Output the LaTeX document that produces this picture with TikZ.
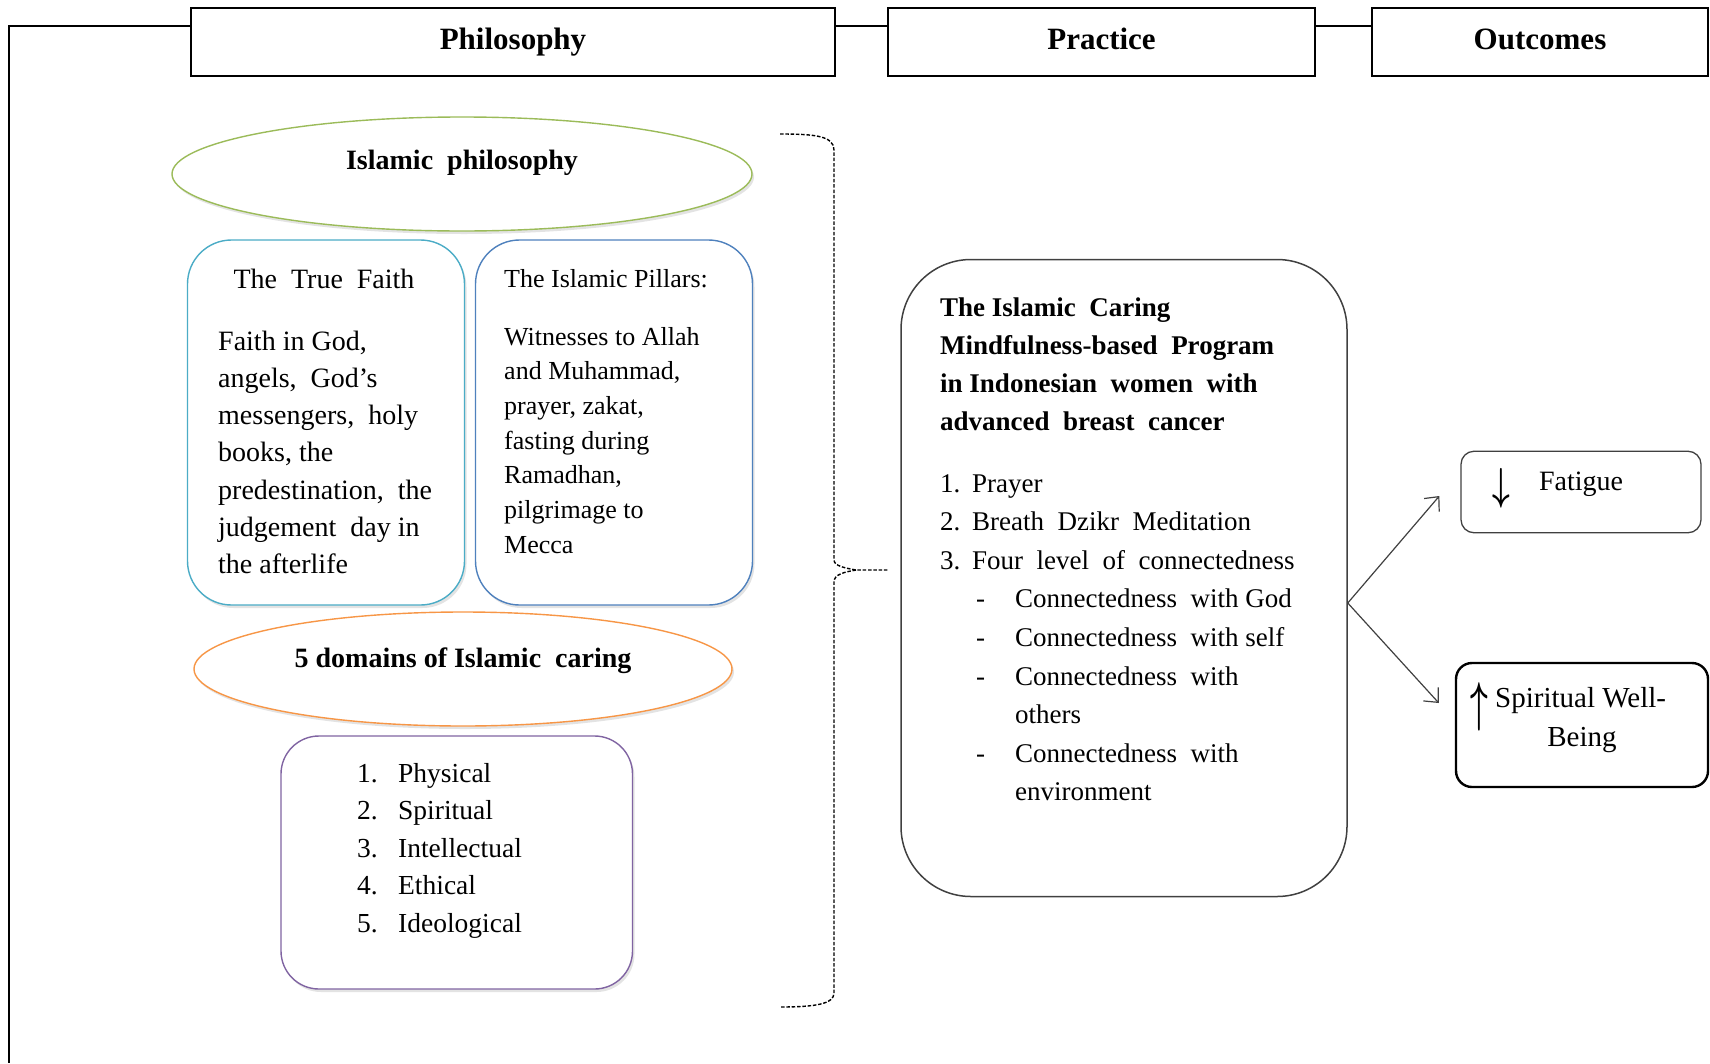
\documentclass[tikz,border=0pt]{standalone}
\usepackage{fix-cm}
\usepackage{graphicx}
\usepackage{fontspec}
\setmainfont{Liberation Serif}
\usetikzlibrary{calc,arrows.meta,shapes.geometric,shadows}
\definecolor{cgreen}{HTML}{9BBB59}
\definecolor{cteal}{HTML}{4BACC6}
\definecolor{cblue}{HTML}{4F81BD}
\definecolor{corange}{HTML}{F79646}
\definecolor{cpurple}{HTML}{8064A2}
\definecolor{cgrey}{HTML}{404040}
\newcommand{\myfs}[2]{\fontsize{#1}{#2}\selectfont}
\tikzset{
  hdr/.style={draw, line width=1.8pt, minimum height=68pt, inner sep=0pt, text height=22pt, text depth=7pt, font=\myfs{31}{36}\bfseries},
  frameline/.style={line width=1.8pt},
  softshadow/.style={drop shadow={shadow xshift=2pt, shadow yshift=-3pt, opacity=0.18, fill=black!60}},
  ovalbox/.style={ellipse, draw, line width=1.4pt, fill=white, softshadow, inner sep=0pt},
  roundbox/.style={rectangle, rounded corners=44pt, draw, line width=1.4pt, fill=white, softshadow, inner sep=0pt},
  txt/.style={inner sep=0pt, align=left},
  bracedash/.style={line width=1.4pt, dash pattern=on 3.5pt off 1.8pt},
  outarrow/.style={line width=1.2pt, cgrey, -{Straight Barb[length=11pt, width=20pt, line width=1.2pt]}},
}
\begin{document}
\begin{tikzpicture}[x=1pt, y=-1pt]
\useasboundingbox (0,0) rectangle (1710,1063);

% header boxes
\node[hdr, minimum width=644pt] (philo) at (513,42) {Philosophy};
\node[hdr, minimum width=427pt] (pract) at (1101.5,42) {Practice};
\node[hdr, minimum width=336pt] (outc) at (1540,42) {Outcomes};
\coordinate (fbot) at (9,1063);
\draw[frameline] ($(philo.north west)!0.27!(philo.south west)$) -| (fbot);
\draw[frameline] ($(philo.north east)!0.27!(philo.south east)$) -- ($(pract.north west)!0.27!(pract.south west)$);
\draw[frameline] ($(pract.north east)!0.27!(pract.south east)$) -- ($(outc.north west)!0.27!(outc.south west)$);

% Islamic philosophy ellipse
\node[ovalbox, draw=cgreen, minimum width=580pt, minimum height=114pt] (iphil) at (462,174) {};
\node[txt, anchor=base, font=\myfs{28}{34}\bfseries] (iphilt) at (462,169) {Islamic\ \ philosophy};

% The True Faith
\node[roundbox, draw=cteal, minimum width=277pt, minimum height=365pt] (faith) at (326,422.5) {};
\node[txt, anchor=base, font=\myfs{28}{34}] (faitht) at (324,288) {The\ \ True\ \ Faith};
\node[txt, anchor=base west, font=\myfs{28}{37.3}] (faithb) at (218,573.8) {Faith in God,\\ angels,\ \ God’s\\ messengers,\ \ holy\\ books, the\\ predestination,\ \ the\\ judgement\ \ day in\\ the afterlife};

% The Islamic Pillars
\node[roundbox, draw=cblue, minimum width=277pt, minimum height=365pt] (pill) at (614,422.5) {};
\node[txt, anchor=base west, font=\myfs{26}{34}] (pillt) at (504,287) {The Islamic Pillars:};
\node[txt, anchor=base west, font=\myfs{26}{34.7}] (pillb) at (504,553.2) {Witnesses to Allah\\ and Muhammad,\\ prayer, zakat,\\ fasting during\\ Ramadhan,\\ pilgrimage to\\ Mecca};

% 5 domains ellipse
\node[ovalbox, draw=corange, minimum width=538pt, minimum height=114pt] (dom) at (463,669) {};
\node[txt, anchor=base, font=\myfs{28}{34}\bfseries] (domt) at (463,667) {5 domains of Islamic\ \ caring};

% domains list
\node[roundbox, rounded corners=38pt, draw=cpurple, minimum width=351.5pt, minimum height=253pt] (doml) at (456.75,862.5) {};
\node[txt, anchor=base west, font=\myfs{27.5}{37.6}] (domlt) at (357,932.4) {\makebox[41pt][l]{1.}Physical\\ \makebox[41pt][l]{2.}Spiritual\\ \makebox[41pt][l]{3.}Intellectual\\ \makebox[41pt][l]{4.}Ethical\\ \makebox[41pt][l]{5.}Ideological};

% dashed brace
\coordinate (btip) at (889,570);
\draw[bracedash] (780,134) .. controls (815,134) and (834,136) .. (834,150) -- (834,560) .. controls (834,566) and (845,568) .. (856,570) -- (btip);
\draw[bracedash] (856,570) .. controls (845,572) and (834,574) .. (834,582) -- (834,993) .. controls (834,1004) and (815,1007) .. (780,1007);

% practice box
\node[rectangle, rounded corners=70pt, draw=cgrey, line width=1.5pt, minimum width=446pt, minimum height=637pt, inner sep=0pt] (prog) at (1124,578) {};
\node[txt, anchor=base west, font=\myfs{27}{38}\bfseries] (progt) at (940,430.5) {The Islamic\ \ Caring\\ Mindfulness-based\ \ Program\\ in Indonesian\ \ women\ \ with\\ advanced\ \ breast\ \ cancer};
\node[txt, anchor=base west, font=\myfs{27}{38.6}] (progb) at (940,800.8) {\makebox[32pt][l]{1.}Prayer\\ \makebox[32pt][l]{2.}Breath\ \ Dzikr\ \ Meditation\\ \makebox[32pt][l]{3.}Four\ \ level\ \ of\ \ connectedness\\ \hspace*{36pt}\makebox[39pt][l]{-}Connectedness\ \ with God\\ \hspace*{36pt}\makebox[39pt][l]{-}Connectedness\ \ with self\\ \hspace*{36pt}\makebox[39pt][l]{-}Connectedness\ \ with\\ \hspace*{75pt}others\\ \hspace*{36pt}\makebox[39pt][l]{-}Connectedness\ \ with\\ \hspace*{75pt}environment};

% outcome boxes
\node[rectangle, rounded corners=13pt, draw=cgrey, line width=1.3pt, minimum width=240pt, minimum height=81.5pt, inner sep=0pt] (fat) at (1581,492) {};
\node[txt, anchor=base, font=\myfs{28}{34}] (fatt) at (1581,490) {Fatigue};
\node[txt, font=\myfs{28}{34}] (darr) at (1501,488.5) {\scalebox{1.1}[1.6]{\boldmath$\downarrow$}};

\node[rectangle, rounded corners=16pt, draw, line width=2.4pt, minimum width=252pt, minimum height=124pt, inner sep=0pt] (spir) at (1582,725) {};
\node[txt, anchor=base west, font=\myfs{29}{39}] (spirt) at (1495,707) {Spiritual Well-};
\node[txt, anchor=base, font=\myfs{29}{39}] (spirb) at (1582,746) {Being};
\node[txt, font=\myfs{28}{34}] (uarr) at (1479,707) {\scalebox{1.1}[1.95]{\boldmath$\uparrow$}};

% arrows from program to outcomes
\coordinate (split) at ($(prog.east)+(0,25)$);
\draw[outarrow] (split) -- ($(fat.west)+(-21,4)$);
\draw[outarrow] (split) -- ($(spir.west)+(-16,-22)$);
\end{tikzpicture}
\end{document}
